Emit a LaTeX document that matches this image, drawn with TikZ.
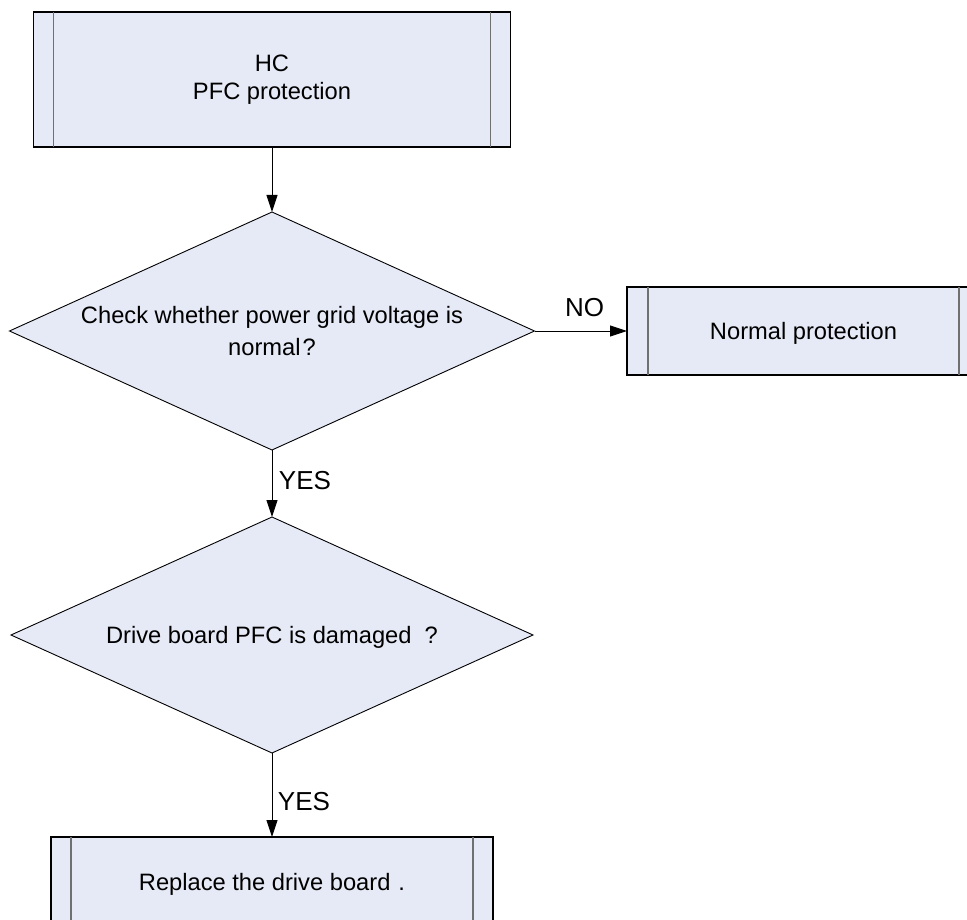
\documentclass[tikz,border=0pt]{standalone}
\usepackage{fontspec}
\setmainfont{Liberation Sans}
\usetikzlibrary{shapes.geometric,arrows.meta}
\definecolor{boxfill}{HTML}{E6EAF6}
\definecolor{innerline}{HTML}{707070}
\begin{document}
\begin{tikzpicture}[x=1pt,y=-1pt,
  procbox/.style={draw=black, line width=1.1pt, fill=boxfill, rectangle, inner sep=0pt, outer sep=0pt},
  decbox/.style={draw=black, line width=0.9pt, fill=boxfill, diamond, inner sep=0pt, outer sep=0pt},
  bodytext/.style={font=\fontsize{23.7}{28}\selectfont, align=center, inner sep=0pt},
  lbl/.style={font=\fontsize{26}{30}\selectfont, inner sep=0pt},
  flow/.style={line width=0.9pt, -{Triangle[length=17pt,width=11pt]}},
  sideline/.style={draw=innerline, line width=1.4pt}]
\clip (0,0) rectangle (967,920);
% start box
\node[procbox, minimum width=477pt, minimum height=135pt] (start) at (272,79.5) {};
\draw[sideline] ([xshift=20pt]start.north west) -- ([xshift=20pt]start.south west);
\draw[sideline] ([xshift=-20pt]start.north east) -- ([xshift=-20pt]start.south east);
\node[bodytext] (startt) at (start) {HC\\PFC protection};
% decision 1
\node[decbox, minimum width=525pt, minimum height=238pt] (d1) at (272,331) {};
\node[bodytext, font=\fontsize{23.7}{32}\selectfont] (d1t) at (272,331) {Check whether power grid voltage is\\normal\kern2pt?};
% normal protection box
\node[procbox, minimum width=353pt, minimum height=88pt] (nb) at (803.5,331) {};
\draw[sideline] ([xshift=21pt]nb.north west) -- ([xshift=21pt]nb.south west);
\draw[sideline] ([xshift=-21pt]nb.north east) -- ([xshift=-21pt]nb.south east);
\node[bodytext, yshift=-2pt] (nbt) at (nb) {Normal protection};
% decision 2
\node[decbox, minimum width=522pt, minimum height=236pt] (d2) at (272,635) {};
\node[bodytext, yshift=-2pt] (d2t) at (d2) {Drive board PFC is damaged~~?};
% replace box
\node[procbox, minimum width=442pt, minimum height=90pt] (rb) at (272,882) {};
\draw[sideline] ([xshift=20pt]rb.north west) -- ([xshift=20pt]rb.south west);
\draw[sideline] ([xshift=-20pt]rb.north east) -- ([xshift=-20pt]rb.south east);
\node[bodytext, yshift=-2pt] (rbt) at (rb) {Replace the drive board\hspace{8pt}.};
% connectors
\draw[flow] (start.south) -- (d1.north);
\draw[flow] (d1.east) -- (nb.west);
\draw[flow] (d1.south) -- (d2.north);
\draw[flow] (d2.south) -- (rb.north);
% labels
\node[lbl] (no) at (584.5,307.5) {NO};
\node[lbl] (yes1) at (305,480.5) {YES};
\node[lbl] (yes2) at (304,802) {YES};
\end{tikzpicture}
\end{document}
